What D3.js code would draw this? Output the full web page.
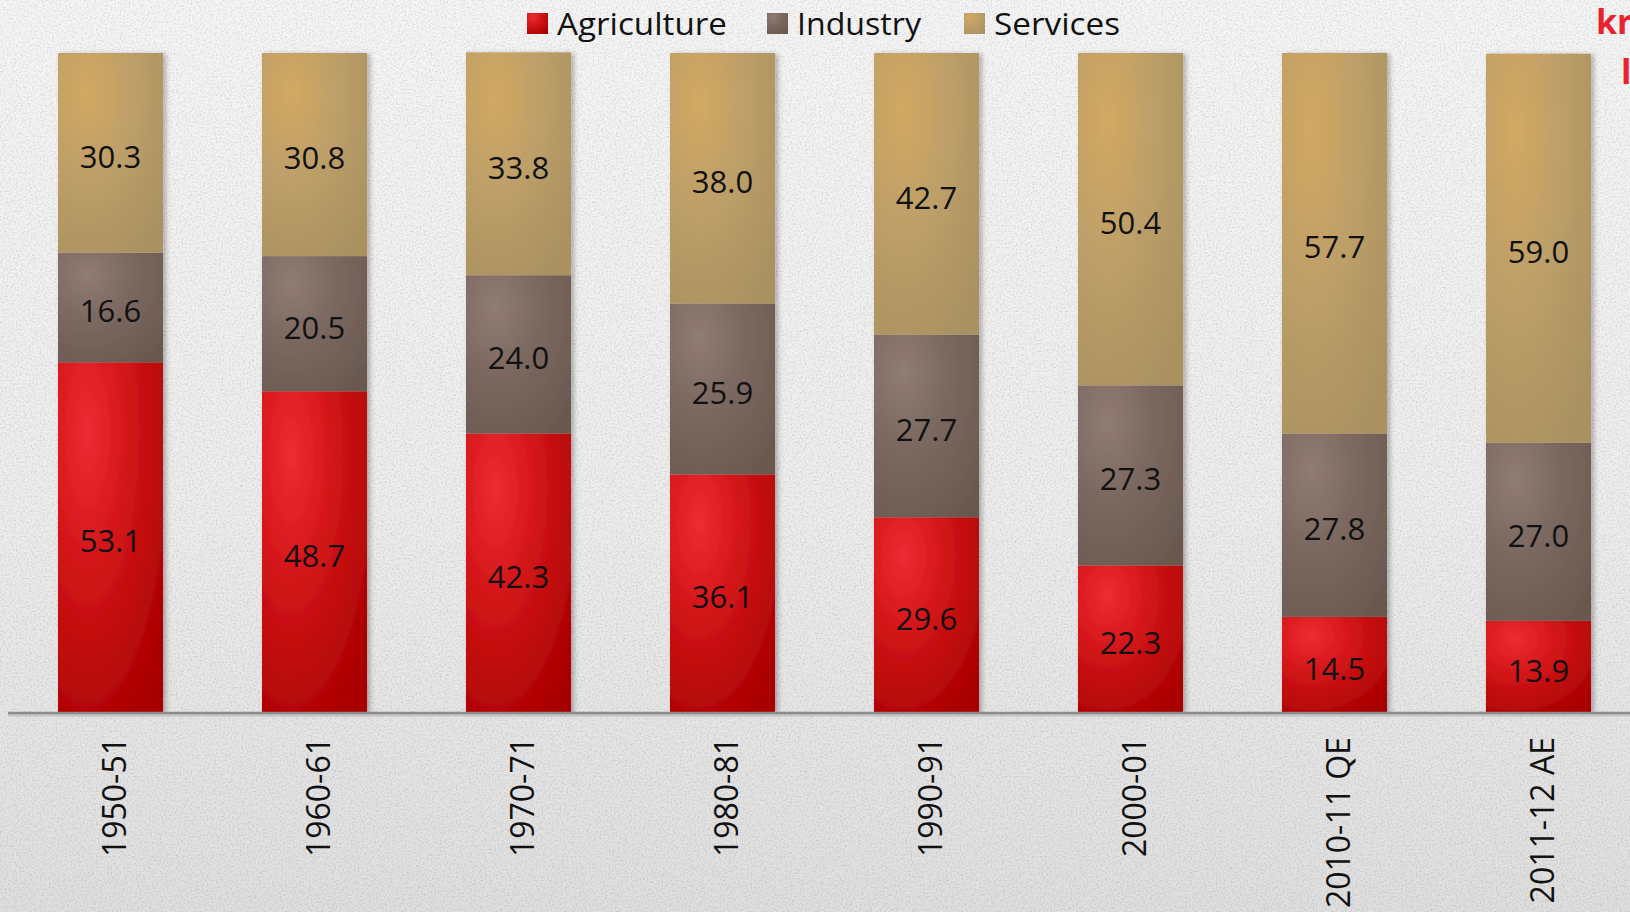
<!DOCTYPE html>
<html>
<head>
<meta charset="utf-8">
<script src="https://cdn.jsdelivr.net/npm/d3@7/dist/d3.min.js"></script>
<style>
  html, body { margin: 0; padding: 0; overflow: hidden; }
  svg { display: block; }
</style>
</head>
<body>
<svg id="chart" width="1630" height="912"></svg>
<script>
// Sector shares of GDP (%)
const categories = ["1950-51", "1960-61", "1970-71", "1980-81", "1990-91", "2000-01", "2010-11 QE", "2011-12 AE"];
const agriculture = [53.1, 48.7, 42.3, 36.1, 29.6, 22.3, 14.5, 13.9];
const industry    = [16.6, 20.5, 24.0, 25.9, 27.7, 27.3, 27.8, 27.0];
const services    = [30.3, 30.8, 33.8, 38.0, 42.7, 50.4, 57.7, 59.0];
const seriesNames = ["Agriculture", "Industry", "Services"];

const W = 1630, H = 912;
const svg = d3.select("#chart");
const defs = svg.append("defs");

// paper background
const bg = defs.append("linearGradient").attr("id", "bgGrad")
  .attr("x1", 0).attr("y1", 0).attr("x2", 0).attr("y2", 1);
bg.append("stop").attr("offset", "0%").attr("stop-color", "#f5f5f5");
bg.append("stop").attr("offset", "55%").attr("stop-color", "#ededed");
bg.append("stop").attr("offset", "100%").attr("stop-color", "#dfdfdf");

const grain = defs.append("filter").attr("id", "grain")
  .attr("x", 0).attr("y", 0).attr("width", "100%").attr("height", "100%");
grain.append("feTurbulence").attr("type", "fractalNoise")
  .attr("baseFrequency", "0.55").attr("numOctaves", 3).attr("seed", 7).attr("result", "noise");
grain.append("feColorMatrix").attr("in", "noise").attr("type", "matrix")
  .attr("values", "0 0 0 0 0  0 0 0 0 0  0 0 0 0 0  0 0 0 -1.1 0.62");

svg.append("rect").attr("width", W).attr("height", H).attr("fill", "url(#bgGrad)");
svg.append("rect").attr("width", W).attr("height", H).attr("filter", "url(#grain)").attr("opacity", 0.24);

// soft shadow for bars
const shadow = defs.append("filter").attr("id", "barShadow")
  .attr("x", "-10%").attr("y", "-5%").attr("width", "125%").attr("height", "110%");
shadow.append("feDropShadow").attr("dx", 3).attr("dy", 1).attr("stdDeviation", 2.5)
  .attr("flood-color", "#000").attr("flood-opacity", 0.28);

// segment fills: glossy highlight toward the upper left
const fills = {
  Agriculture: ["#ee2b33", "#d01416", "#a80000"],
  Industry:    ["#917c73", "#7b6860", "#6a5950"],
  Services:    ["#d3a862", "#bd9f68", "#a99161"]
};
seriesNames.forEach(name => {
  const g = defs.append("radialGradient").attr("id", "grad-" + name)
    .attr("cx", 0.28).attr("cy", 0.2).attr("r", 0.95).attr("fx", 0.28).attr("fy", 0.2);
  g.append("stop").attr("offset", "0%").attr("stop-color", fills[name][0]);
  g.append("stop").attr("offset", "45%").attr("stop-color", fills[name][1]);
  g.append("stop").attr("offset", "100%").attr("stop-color", fills[name][2]);
});

const table = categories.map((c, i) => ({
  category: c,
  Agriculture: agriculture[i],
  Industry: industry[i],
  Services: services[i]
}));

const stack = d3.stack().keys(seriesNames);
const layers = stack(table);

const x = d3.scaleBand().domain(categories)
  .range([8, 1641]).paddingInner(0.485).paddingOuter(0.245);
const y = d3.scaleLinear().domain([0, 100]).range([712.5, 53]);

const barsG = svg.append("g").attr("filter", "url(#barShadow)");
layers.forEach(layer => {
  barsG.append("g").selectAll("rect").data(layer).join("rect")
    .attr("x", d => x(d.data.category))
    .attr("width", x.bandwidth())
    .attr("y", d => y(d[1]))
    .attr("height", d => y(d[0]) - y(d[1]))
    .attr("fill", "url(#grad-" + layer.key + ")");
});

// value labels
const fmt = d3.format(".1f");
const labelsG = svg.append("g")
  .attr("font-family", "'Open Sans', 'DejaVu Sans', sans-serif")
  .attr("font-size", 31).attr("fill", "#111").attr("text-anchor", "middle");
layers.forEach(layer => {
  labelsG.append("g").selectAll("text").data(layer).join("text")
    .attr("x", d => x(d.data.category) + x.bandwidth() / 2)
    .attr("y", d => (y(d[0]) + y(d[1])) / 2)
    .attr("dy", "0.48em")
    .text(d => fmt(d.data[layer.key]));
});

// baseline axis
const axisG = svg.append("g").attr("transform", "translate(0,713)");
axisG.append("line").attr("x1", 8).attr("x2", W).attr("y1", 1.5).attr("y2", 1.5)
  .attr("stroke", "#c4c4c4").attr("stroke-width", 4);
axisG.append("line").attr("x1", 8).attr("x2", W).attr("y1", 0).attr("y2", 0)
  .attr("stroke", "#8c8c8c").attr("stroke-width", 2.5);

const xAxis = d3.axisBottom(x).tickSize(0).tickPadding(0);
const ax = svg.append("g").attr("transform", "translate(0,713)").call(xAxis);
ax.select(".domain").remove();
ax.selectAll("text")
  .attr("font-family", "'Open Sans', 'DejaVu Sans', sans-serif")
  .attr("font-size", 32).attr("fill", "#111")
  .attr("text-anchor", "end")
  .attr("transform", "translate(4,24) rotate(-90)")
  .attr("x", 0).attr("y", 0).attr("dy", "0.36em");

// legend
const legendX = [527, 767, 964];
const legend = svg.append("g")
  .attr("font-family", "'Open Sans', 'DejaVu Sans', sans-serif")
  .attr("font-size", 31).attr("fill", "#111");
seriesNames.forEach((name, i) => {
  legend.append("rect").attr("x", legendX[i]).attr("y", 13).attr("width", 21).attr("height", 21)
    .attr("fill", "url(#grad-" + name + ")");
  legend.append("text").attr("x", legendX[i] + 30).attr("y", 35)
    .attr("textLength", [170, 124, 126][i]).attr("lengthAdjust", "spacingAndGlyphs")
    .text(name);
});

// corner brand mark (cropped at the edge)
svg.append("text").attr("x", 1596).attr("y", 34)
  .attr("font-family", "'Open Sans', sans-serif").attr("font-weight", 700)
  .attr("font-size", 34).attr("fill", "#e8232c").text("kr");
svg.append("text").attr("x", 1621).attr("y", 84)
  .attr("font-family", "'Open Sans', sans-serif").attr("font-weight", 700)
  .attr("font-size", 34).attr("fill", "#e8232c").text("l");
</script>
</body>
</html>
